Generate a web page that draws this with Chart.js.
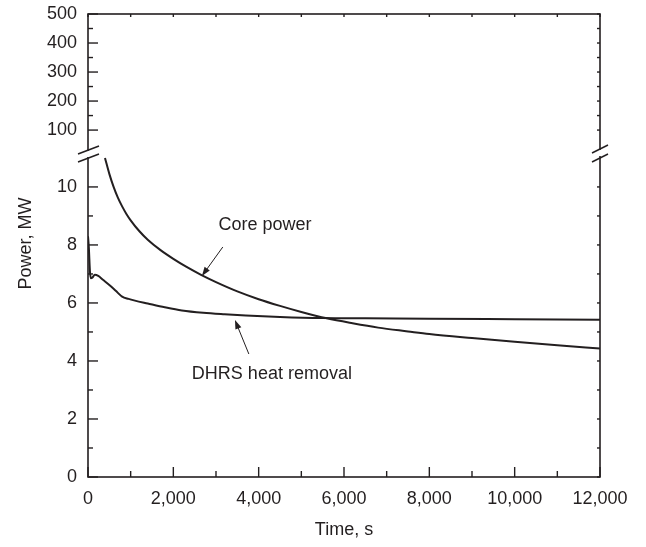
<!DOCTYPE html>
<html>
<head>
<meta charset="utf-8">
<script src="https://cdn.jsdelivr.net/npm/chart.js@4.4.1/dist/chart.umd.min.js"></script>
<style>
  html, body { margin: 0; padding: 0; background: #fff; }
  #wrap { width: 646px; height: 547px; }
</style>
</head>
<body>
<div id="wrap"><canvas id="chart" width="646" height="547"></canvas></div>
<script>
const INK = "#231f20";
const FONT = '"Liberation Sans", Arial, Helvetica, sans-serif';
const FONT_SIZE = 18;

// tick values
const timeTicks = [0, 2000, 4000, 6000, 8000, 10000, 12000];
const timeMinor = [1000, 3000, 5000, 7000, 9000, 11000];
const lowerTicks = [0, 2, 4, 6, 8, 10];
const lowerMinor = [1, 3, 5, 7, 9];
const upperTicks = [100, 200, 300, 400, 500];
const upperMinor = [150, 250, 350, 450];

// series (time in s, power in MW)
const coreTime  = [398, 500, 600, 700, 800, 900, 1000, 1200, 1400, 1700, 2000, 2300, 2650, 3000, 3500, 4000, 4500, 5000, 5600, 6200, 6800, 7500, 8000, 9000, 10000, 11000, 12000];
const corePower = [11.0, 10.45, 10.0, 9.63, 9.33, 9.07, 8.85, 8.48, 8.18, 7.82, 7.52, 7.25, 6.97, 6.72, 6.4, 6.13, 5.9, 5.69, 5.47, 5.3, 5.15, 5.02, 4.93, 4.79, 4.66, 4.54, 4.43];

const dhrsTime  = [0, 20, 45, 70, 100, 160, 240, 350, 500, 650, 800, 950, 1100, 1400, 1800, 2200, 2700, 3200, 3700, 4500, 5500, 6500, 8000, 10000, 12000];
const dhrsPower = [8.3, 7.9, 7.1, 6.85, 6.87, 6.97, 6.93, 6.8, 6.62, 6.42, 6.22, 6.14, 6.08, 5.98, 5.85, 5.74, 5.66, 5.61, 5.57, 5.52, 5.48, 5.47, 5.46, 5.44, 5.42];

// labels with arrows (data units)
const notes = [
  { text: "Core power", at: [4150, 8.7], from: [3160, 7.93], to: [2670, 6.93] },
  { text: "DHRS heat removal", at: [4310, 3.55], from: [3770, 4.24], to: [3445, 5.41] }
];

function toPoints(xs, ys) {
  return xs.map((x, i) => ({ x, y: ys[i] }));
}

// frame, ticks, axis break, arrows, y title
const decor = {
  id: "decor",
  afterDraw(chart) {
    const { ctx, chartArea: a, scales } = chart;
    const sx = scales.x, lo = scales.y, hi = scales.yTop;
    ctx.save();
    ctx.strokeStyle = INK;
    ctx.fillStyle = INK;
    ctx.lineCap = "butt";

    ctx.lineWidth = 1.6;
    ctx.strokeRect(a.left, a.top, a.right - a.left, a.bottom - a.top);

    ctx.lineWidth = 1.4;
    const line = (x1, y1, x2, y2) => {
      ctx.beginPath(); ctx.moveTo(x1, y1); ctx.lineTo(x2, y2); ctx.stroke();
    };
    // bottom + top ticks
    timeTicks.forEach(v => { const px = sx.getPixelForValue(v); line(px, a.bottom, px, a.bottom - 10); line(px, a.top, px, a.top + 3); });
    timeMinor.forEach(v => { const px = sx.getPixelForValue(v); line(px, a.bottom, px, a.bottom - 6); line(px, a.top, px, a.top + 3); });
    // left + right ticks
    const yt = (sc, v, len) => {
      const py = sc.getPixelForValue(v);
      line(a.left, py, a.left + len, py);
      line(a.right, py, a.right - 3, py);
    };
    lowerTicks.forEach(v => yt(lo, v, 10));
    lowerMinor.forEach(v => yt(lo, v, 5));
    upperTicks.forEach(v => yt(hi, v, 10));
    upperMinor.forEach(v => yt(hi, v, 5));

    // axis break marks
    const yb = lo.top;
    ctx.fillStyle = "#fff";
    ctx.fillRect(a.left - 2, yb - 2, 4, 6);
    ctx.fillRect(a.right - 2, yb - 3, 4, 6);
    ctx.lineWidth = 1.5;
    line(a.left - 10, yb + 1, a.left + 11, yb - 7);
    line(a.left - 10, yb + 9, a.left + 11, yb + 1);
    line(a.right - 8, yb, a.right + 8, yb - 8);
    line(a.right - 8, yb + 9, a.right + 8, yb + 1);

    // annotations
    ctx.fillStyle = INK;
    ctx.lineWidth = 1;
    ctx.font = FONT_SIZE + "px " + FONT;
    ctx.textAlign = "center";
    ctx.textBaseline = "middle";
    notes.forEach(n => {
      ctx.fillText(n.text, sx.getPixelForValue(n.at[0]), lo.getPixelForValue(n.at[1]));
      const x1 = sx.getPixelForValue(n.from[0]), y1 = lo.getPixelForValue(n.from[1]);
      const x2 = sx.getPixelForValue(n.to[0]), y2 = lo.getPixelForValue(n.to[1]);
      const ang = Math.atan2(y2 - y1, x2 - x1);
      const hl = 9, hw = 3.2;
      line(x1, y1, x2 - Math.cos(ang) * hl * 0.8, y2 - Math.sin(ang) * hl * 0.8);
      ctx.beginPath();
      ctx.moveTo(x2, y2);
      ctx.lineTo(x2 - Math.cos(ang) * hl - Math.sin(ang) * hw, y2 - Math.sin(ang) * hl + Math.cos(ang) * hw);
      ctx.lineTo(x2 - Math.cos(ang) * hl + Math.sin(ang) * hw, y2 - Math.sin(ang) * hl - Math.cos(ang) * hw);
      ctx.closePath();
      ctx.fill();
    });

    // y axis title
    ctx.save();
    ctx.translate(26, (a.top + a.bottom) / 2 - 2);
    ctx.rotate(-Math.PI / 2);
    ctx.fillText("Power, MW", 0, 0);
    ctx.restore();

    ctx.restore();
  }
};

const tickFont = { family: FONT, size: FONT_SIZE };

new Chart(document.getElementById("chart"), {
  type: "line",
  data: {
    datasets: [
      {
        label: "Core power",
        data: toPoints(coreTime, corePower),
        yAxisID: "y",
        borderColor: INK,
        borderWidth: 2,
        pointRadius: 0,
        cubicInterpolationMode: "monotone",
        fill: false
      },
      {
        label: "DHRS heat removal",
        data: toPoints(dhrsTime, dhrsPower),
        yAxisID: "y",
        borderColor: INK,
        borderWidth: 2,
        pointRadius: 0,
        cubicInterpolationMode: "monotone",
        fill: false
      }
    ]
  },
  options: {
    responsive: false,
    animation: false,
    devicePixelRatio: 1,
    layout: { padding: { left: 0, right: 46, top: 14, bottom: 0 } },
    plugins: { legend: { display: false }, tooltip: { enabled: false } },
    scales: {
      x: {
        type: "linear",
        min: 0,
        max: 12000,
        grid: { display: false, drawTicks: false },
        border: { display: false },
        afterBuildTicks: s => { s.ticks = timeTicks.map(v => ({ value: v })); },
        afterFit: s => { s.height = 70; },
        ticks: {
          color: INK, font: tickFont, padding: 11, maxRotation: 0, autoSkip: false,
          callback: v => Number(v).toLocaleString("en-US")
        },
        title: { display: true, text: "Time, s", color: INK, font: tickFont, padding: { top: 0, bottom: 6 } }
      },
      y: {
        type: "linear",
        position: "left",
        stack: "power",
        stackWeight: 324,
        min: 0,
        max: 11.17,
        grid: { display: false, drawTicks: false },
        border: { display: false },
        afterBuildTicks: s => { s.ticks = lowerTicks.map(v => ({ value: v })); },
        afterFit: s => { s.width = 88; s.paddingTop = 0; s.paddingBottom = 0; },
        ticks: { color: INK, font: tickFont, padding: 11, autoSkip: false }
      },
      yTop: {
        type: "linear",
        position: "left",
        stack: "power",
        stackWeight: 139,
        min: 21,
        max: 500,
        grid: { display: false, drawTicks: false },
        border: { display: false },
        afterBuildTicks: s => { s.ticks = upperTicks.map(v => ({ value: v })); },
        afterFit: s => { s.width = 88; s.paddingTop = 10; s.paddingBottom = 0; },
        ticks: { color: INK, font: tickFont, padding: 11, autoSkip: false }
      }
    }
  },
  plugins: [decor]
});
</script>
</body>
</html>
